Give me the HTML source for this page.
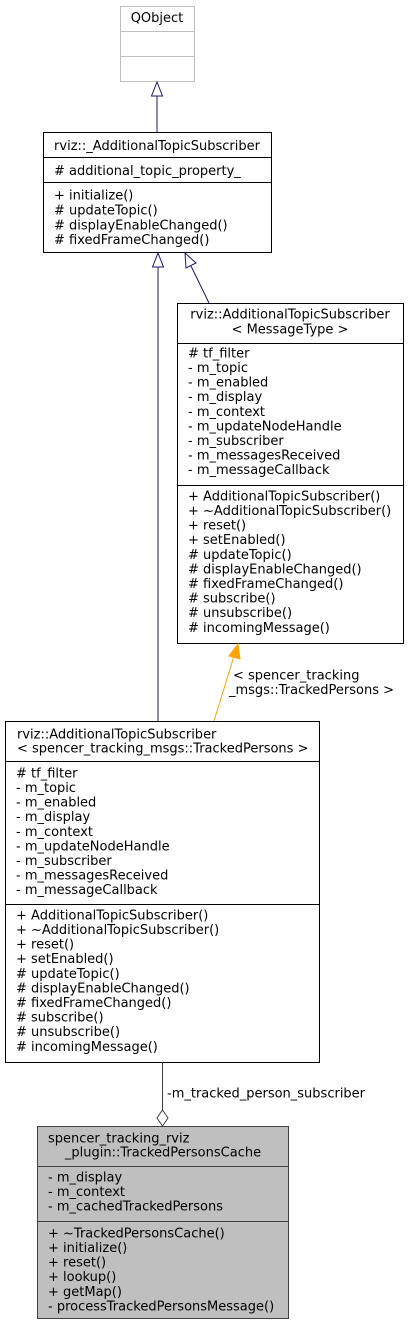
<!DOCTYPE html>
<html><head><meta charset="utf-8"><style>
html,body{margin:0;padding:0;background:#fff;}
svg text{font-family:"DejaVu Sans","Liberation Sans",sans-serif;font-size:13px;fill:#000;}
</style></head><body>
<svg width="409" height="1325" viewBox="0 0 409 1325" xmlns="http://www.w3.org/2000/svg">
<!-- QObject -->
<rect x="120.5" y="6.5" width="74" height="75" fill="#fff" stroke="#bfbfbf"/>
<line x1="120" y1="31.5" x2="195" y2="31.5" stroke="#bfbfbf"/>
<line x1="120" y1="56.5" x2="195" y2="56.5" stroke="#bfbfbf"/>
<text x="157" y="22" text-anchor="middle">QObject</text>
<line x1="157" y1="132" x2="157" y2="96" stroke="#191970"/>
<polygon points="157,82 151.5,96 162.5,96" fill="#fff" stroke="#191970"/>

<!-- base -->
<rect x="43.5" y="132.5" width="228" height="120" fill="#fff" stroke="#000"/>
<line x1="43" y1="157.5" x2="272" y2="157.5" stroke="#000"/>
<line x1="43" y1="182.5" x2="272" y2="182.5" stroke="#000"/>
<text x="157" y="150" text-anchor="middle">rviz::_AdditionalTopicSubscriber</text>
<text x="54" y="175"># additional_topic_property_</text>
<text x="54" y="199.5">+ initialize()</text>
<text x="54" y="214.5"># updateTopic()</text>
<text x="54" y="229.5"># displayEnableChanged()</text>
<text x="54" y="244"># fixedFrameChanged()</text>

<line x1="158" y1="722" x2="158" y2="267" stroke="#191970"/>
<polygon points="158,253 152.5,267 163.5,267" fill="#fff" stroke="#191970"/>
<line x1="209" y1="303" x2="191" y2="266" stroke="#191970"/>
<polygon points="185,253 186,268 196,263" fill="#fff" stroke="#191970"/>

<!-- template -->
<rect x="177.5" y="303.5" width="226" height="340" fill="#fff" stroke="#000"/>
<line x1="177" y1="343.5" x2="404" y2="343.5" stroke="#000"/>
<line x1="177" y1="485.5" x2="404" y2="485.5" stroke="#000"/>
<text x="290" y="318.5" text-anchor="middle">rviz::AdditionalTopicSubscriber</text>
<text x="290" y="333.5" text-anchor="middle">&lt; MessageType &gt;</text>
<text x="188" y="357.5"># tf_filter</text>
<text x="188" y="372">- m_topic</text>
<text x="188" y="386.6">- m_enabled</text>
<text x="188" y="401.2">- m_display</text>
<text x="188" y="415.8">- m_context</text>
<text x="188" y="430.4">- m_updateNodeHandle</text>
<text x="188" y="445">- m_subscriber</text>
<text x="188" y="459.6">- m_messagesReceived</text>
<text x="188" y="474.2">- m_messageCallback</text>
<text x="188" y="500.5">+ AdditionalTopicSubscriber()</text>
<text x="188" y="515">+ ~AdditionalTopicSubscriber()</text>
<text x="188" y="529.6">+ reset()</text>
<text x="188" y="544.2">+ setEnabled()</text>
<text x="188" y="558.8"># updateTopic()</text>
<text x="188" y="573.4"># displayEnableChanged()</text>
<text x="188" y="588"># fixedFrameChanged()</text>
<text x="188" y="602.6"># subscribe()</text>
<text x="188" y="617.2"># unsubscribe()</text>
<text x="188" y="631.8"># incomingMessage()</text>

<line x1="214" y1="721" x2="234" y2="656" stroke="#ffa500"/>
<polygon points="238,644 229,656 240,659" fill="#ffa500" stroke="#ffa500"/>
<text x="233" y="679.5">&lt; spencer_tracking</text>
<text x="229" y="694">_msgs::TrackedPersons &gt;</text>

<!-- instantiated -->
<rect x="5.5" y="721.5" width="314" height="341" fill="#fff" stroke="#000"/>
<line x1="5" y1="761.5" x2="320" y2="761.5" stroke="#000"/>
<line x1="5" y1="904.5" x2="320" y2="904.5" stroke="#000"/>
<text x="17" y="738.5">rviz::AdditionalTopicSubscriber</text>
<text x="17" y="752.5">&lt; spencer_tracking_msgs::TrackedPersons &gt;</text>
<text x="16" y="777.5"># tf_filter</text>
<text x="16" y="792">- m_topic</text>
<text x="16" y="806.6">- m_enabled</text>
<text x="16" y="821.2">- m_display</text>
<text x="16" y="835.8">- m_context</text>
<text x="16" y="850.4">- m_updateNodeHandle</text>
<text x="16" y="865">- m_subscriber</text>
<text x="16" y="879.6">- m_messagesReceived</text>
<text x="16" y="894.2">- m_messageCallback</text>
<text x="16" y="919.5">+ AdditionalTopicSubscriber()</text>
<text x="16" y="934">+ ~AdditionalTopicSubscriber()</text>
<text x="16" y="948.6">+ reset()</text>
<text x="16" y="963.2">+ setEnabled()</text>
<text x="16" y="977.8"># updateTopic()</text>
<text x="16" y="992.4"># displayEnableChanged()</text>
<text x="16" y="1007"># fixedFrameChanged()</text>
<text x="16" y="1021.6"># subscribe()</text>
<text x="16" y="1036.2"># unsubscribe()</text>
<text x="16" y="1050.8"># incomingMessage()</text>

<line x1="162.5" y1="1062" x2="162.5" y2="1110" stroke="#404040"/>
<polygon points="162.5,1110 168,1118 162.5,1126 157,1118" fill="#fff" stroke="#404040"/>
<text x="167" y="1097.5">-m_tracked_person_subscriber</text>

<!-- cache -->
<rect x="37.5" y="1126.5" width="251" height="192" fill="#bfbfbf" stroke="#404040"/>
<line x1="37" y1="1166.5" x2="289" y2="1166.5" stroke="#404040"/>
<line x1="37" y1="1221.5" x2="289" y2="1221.5" stroke="#404040"/>
<text x="48" y="1142.5">spencer_tracking_rviz</text>
<text x="163" y="1156.5" text-anchor="middle">_plugin::TrackedPersonsCache</text>
<text x="48" y="1181.5">- m_display</text>
<text x="48" y="1196">- m_context</text>
<text x="48" y="1210.5">- m_cachedTrackedPersons</text>
<text x="48" y="1237.5">+ ~TrackedPersonsCache()</text>
<text x="48" y="1252">+ initialize()</text>
<text x="48" y="1266.6">+ reset()</text>
<text x="48" y="1281.2">+ lookup()</text>
<text x="48" y="1295.8">+ getMap()</text>
<text x="48" y="1310.4">- processTrackedPersonsMessage()</text>
</svg>
</body></html>
